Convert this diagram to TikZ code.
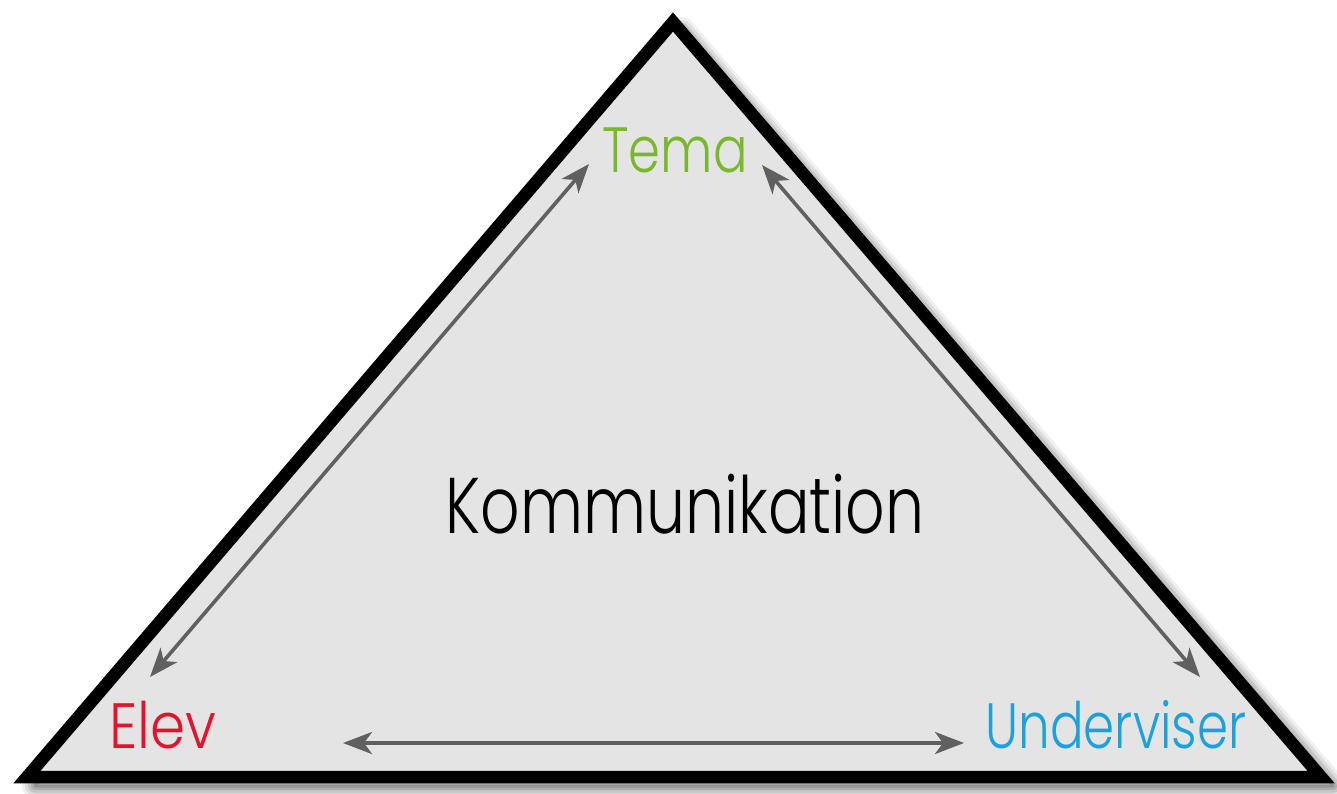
\documentclass[tikz,border=0pt]{standalone}
\usepackage{fontspec}
\setmainfont{Poppins Light}
\usetikzlibrary{arrows.meta}
\definecolor{temagreen}{HTML}{78B82A}
\definecolor{elevred}{HTML}{E5122C}
\definecolor{undblue}{HTML}{1BA1DD}
\definecolor{arrowgray}{HTML}{606060}
\definecolor{trifill}{HTML}{E4E4E4}
\tikzset{
  rel/.style={draw=arrowgray, line width=3.6pt,
    {Stealth[length=29pt,width=22pt,inset=8pt]}-{Stealth[length=29pt,width=22pt,inset=8pt]}},
  lbl/.style={inner sep=0pt, anchor=base, font=\fontsize{64}{64}\selectfont},
}
\begin{document}
\begin{tikzpicture}[x=1pt,y=-1pt]
\useasboundingbox (0,0) rectangle (1337,794);
% shadow
\foreach \w/\o in {26/0.06,20/0.08,14/0.10,8/0.12,3/0.15}{
  \draw[black, opacity=\o, line width=\w pt, line join=round]
    (682,30) -- (1333,786) -- (35,786) -- cycle;
}
% triangle
\coordinate (A) at (673,22);
\coordinate (B) at (27,777);
\coordinate (C) at (1321,777);
\filldraw[fill=trifill, draw=black, line width=12.5pt, line join=miter] (A) -- (C) -- (B) -- cycle;
% labels
\node[lbl, text=temagreen] (tema) at (675,173) {\scalebox{0.8}[1]{Tema}};
\node[lbl, text=elevred] (elev) at (163,748) {\scalebox{0.88}[1]{Elev}};
\node[lbl, text=undblue] (und) at (1116,748) {\scalebox{0.78}[1]{Underviser}};
\node[lbl, text=black, font=\fontsize{79}{79}\selectfont] (komm) at (685,533) {\scalebox{0.78}[1]{Kommunikation}};
% arrow end points
\coordinate (t1) at (589,164);
\coordinate (e1) at (150,677);
\coordinate (t2) at (762,165);
\coordinate (u1) at (1200,677);
\coordinate (e2) at (343,743);
\coordinate (u2) at (964,743);
\draw[rel] (e1) -- (t1);
\draw[rel] (t2) -- (u1);
\draw[rel] (e2) -- (u2);
\end{tikzpicture}
\end{document}
